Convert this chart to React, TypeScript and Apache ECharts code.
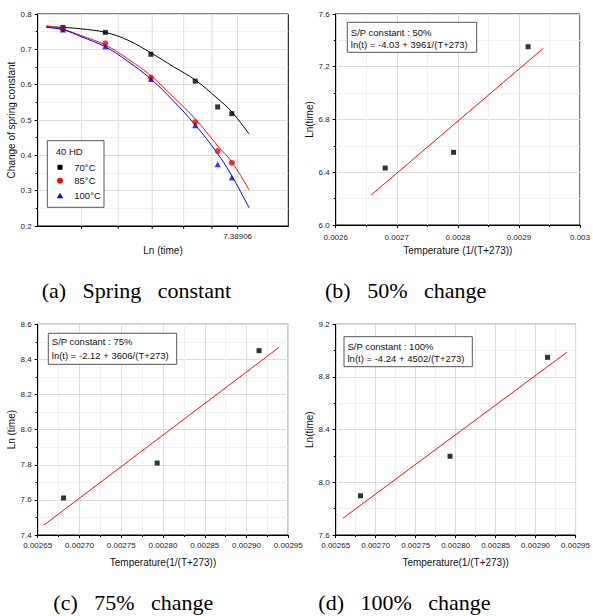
import React, { useEffect, useRef } from "react";
import * as echarts from "echarts";

// ---------- Data ----------
// (a) Spring constant vs Ln(time)
const A_LN_TIME = [-0.72, -0.06, 0.65, 1.34, 1.69, 1.91];
const A_70 = [0.762, 0.748, 0.686, 0.61, 0.537, 0.518];
const A_85 = [0.757, 0.717, 0.62, 0.494, 0.412, 0.379];
const A_100 = [0.756, 0.709, 0.616, 0.485, 0.375, 0.337];
const A_FIT_X = [-0.98, -0.71, -0.44, -0.06, 0.29, 0.65, 1.0, 1.34, 1.68, 1.91, 2.18];
const A_FIT_70 = [0.764, 0.762, 0.758, 0.748, 0.726, 0.69, 0.651, 0.613, 0.562, 0.523, 0.46];
const A_FIT_85 = [0.767, 0.756, 0.739, 0.712, 0.673, 0.625, 0.565, 0.503, 0.429, 0.381, 0.302];
const A_FIT_100 = [0.762, 0.755, 0.736, 0.707, 0.666, 0.616, 0.554, 0.486, 0.407, 0.342, 0.251];
const A_TICKS_LN = [-0.43, 0.14, 0.67, 1.16, 1.6, 2.0];
const A_TICK_LABELS = ["", "", "", "", "", "7.38906"];
const A_LEGEND = ["70°C", "85°C", "100°C"];

// inverse temperatures 1/(T+273) for 100, 85, 70 °C
const INV_T = [0.002681, 0.002793, 0.002915];

// (b) 50% change
const B_LN = [6.432, 6.551, 7.352];
const B_FIT_X = [0.002658, 0.00294];
const B_FIT_Y = [6.227, 7.34];
// (c) 75% change
const C_LN = [7.611, 7.81, 8.45];
const C_FIT_X = [0.0026575, 0.002939];
const C_FIT_Y = [7.457, 8.469];
// (d) 100% change
const D_LN = [7.898, 8.198, 8.949];
const D_FIT_X = [0.002659, 0.002939];
const D_FIT_Y = [7.727, 8.987];

const BOX_B = ["S/P constant : 50%", "ln(t) = -4.03 + 3961/(T+273)"];
const BOX_C = ["S/P constant : 75%", "ln(t) = -2.12 + 3606/(T+273)"];
const BOX_D = ["S/P constant : 100%", "ln(t) = -4.24 + 4502/(T+273)"];
const CAPTIONS = ["(a)   Spring   constant", "(b)   50%   change", "(c)   75%   change", "(d)   100%   change"];

const FONT = '"Liberation Sans", Arial, sans-serif';
const SERIF = '"Liberation Serif", "Times New Roman", serif';
const RED = "#f01010";

const zip = (xs: number[], ys: number[]) => xs.map((x, i) => [x, ys[i]]);

function yAxis(gridIndex: number, min: number, max: number, interval: number, name: string, gap: number, fmt?: (v: number) => string) {
  return {
    type: "value",
    gridIndex,
    min,
    max,
    interval,
    name,
    nameLocation: "middle",
    nameGap: gap,
    nameTextStyle: { fontSize: 10, color: "#111", fontFamily: FONT },
    axisLine: { show: true, onZero: false, lineStyle: { color: "#000", width: 1 } },
    axisTick: { show: true, inside: false, length: 3, lineStyle: { color: "#000" } },
    minorTick: { show: true, splitNumber: 2, length: 2, lineStyle: { color: "#000" } },
    splitLine: { show: true, lineStyle: { color: "#dcdcdc", width: 1 } },
    minorSplitLine: { show: true, lineStyle: { color: "#f0f0f0", width: 1 } },
    axisLabel: { fontSize: 8, color: "#222", fontFamily: FONT, margin: 6, formatter: fmt },
  };
}

function xAxis(gridIndex: number, min: number, max: number, interval: number, name: string, gap: number, margin: number, fmt?: (v: number) => string) {
  return {
    type: "value",
    gridIndex,
    min,
    max,
    interval,
    name,
    nameLocation: "middle",
    nameGap: gap,
    nameTextStyle: { fontSize: 10, color: "#111", fontFamily: FONT },
    axisLine: { show: true, onZero: false, lineStyle: { color: "#000", width: 1 } },
    axisTick: { show: true, inside: false, length: 3, lineStyle: { color: "#000" } },
    minorTick: { show: true, splitNumber: 2, length: 2, lineStyle: { color: "#000" } },
    splitLine: { show: true, lineStyle: { color: "#dcdcdc", width: 1 } },
    minorSplitLine: { show: true, lineStyle: { color: "#f0f0f0", width: 1 } },
    axisLabel: { fontSize: 8, color: "#222", fontFamily: FONT, margin, formatter: fmt, showMaxLabel: true, showMinLabel: true },
  };
}

function annotation(x: number, y: number, w: number, h: number, lines: string[], ly: number[]) {
  return {
    type: "group",
    z: 100,
    children: [
      { type: "rect", z: 100, shape: { x, y, width: w, height: h }, style: { fill: "#fff", stroke: "#555", lineWidth: 1 } },
      ...lines.map((t, i) => ({
        type: "text",
        z: 101,
        x: x + 3.5,
        y: ly[i],
        style: { text: t, fontSize: 9.5, fontFamily: FONT, fill: "#111", verticalAlign: "middle", align: "left" },
      })),
    ],
  };
}

export default function App() {
  const ref = useRef<HTMLDivElement>(null);
  useEffect(() => {
    if (!ref.current) return;
    const chart = echarts.init(ref.current, undefined, { renderer: "svg" });
    const gridBase = { show: true, borderColor: "#000", borderWidth: 1, containLabel: false };
    const f1 = (v: number) => v.toFixed(1);
    const f4 = (v: number) => (Math.abs(v - 0.003) < 1e-9 ? "0.003" : v.toFixed(4));
    const f5 = (v: number) => v.toFixed(5);
    const legendText = (t: string, y: number) => ({
      type: "text",
      z: 101,
      x: 74.3,
      y,
      style: { text: t, fontSize: 9.5, fontFamily: FONT, fill: "#111", verticalAlign: "middle" },
    });

    const option: any = {
      animation: false,
      backgroundColor: "#fff",
      grid: [
        { ...gridBase, left: 37.7, top: 14, width: 250.6, height: 212 },
        { ...gridBase, left: 335.7, top: 14, width: 251, height: 211 },
        { ...gridBase, left: 37.7, top: 324.3, width: 250.6, height: 210.7 },
        { ...gridBase, left: 335.7, top: 324.3, width: 251, height: 210.7 },
      ],
      xAxis: [
        {
          type: "value",
          gridIndex: 0,
          min: -1.114,
          max: 2.79,
          name: "Ln (time)",
          nameLocation: "middle",
          nameGap: 19,
          nameTextStyle: { fontSize: 10, color: "#111", fontFamily: FONT },
          axisLine: { show: true, onZero: false, lineStyle: { color: "#000", width: 1 } },
          axisTick: { show: false },
          axisLabel: { show: false },
          splitLine: { show: false },
        },
        xAxis(1, 0.0026, 0.003, 0.0001, "Temperature (1/(T+273))", 20, 8, f4),
        xAxis(2, 0.00265, 0.00295, 0.00005, "Temperature(1/(T+273))", 22, 6, f5),
        xAxis(3, 0.00265, 0.00295, 0.00005, "Temperature(1/(T+273))", 22, 6, f5),
      ],
      yAxis: [
        yAxis(0, 0.2, 0.8, 0.1, "Change of spring constant", 21, f1),
        yAxis(1, 6.0, 7.6, 0.4, "Ln(time)", 21, f1),
        yAxis(2, 7.4, 8.6, 0.2, "Ln (time)", 21, f1),
        yAxis(3, 7.6, 9.2, 0.4, "Ln(time)", 21, f1),
      ],
      series: [
        {
          type: "custom",
          xAxisIndex: 0,
          yAxisIndex: 0,
          z: 1,
          clip: false,
          silent: true,
          data: A_TICKS_LN.map((v) => [v]),
          renderItem: (params: any, api: any) => {
            const v = api.value(0);
            const top = api.coord([v, 0.8]);
            const bot = api.coord([v, 0.2]);
            const label = A_TICK_LABELS[params.dataIndex];
            const children: any[] = [
              { type: "line", shape: { x1: top[0], y1: top[1], x2: bot[0], y2: bot[1] }, style: { stroke: "#dcdcdc", lineWidth: 1 } },
              { type: "line", shape: { x1: bot[0], y1: bot[1], x2: bot[0], y2: bot[1] + 3 }, style: { stroke: "#000", lineWidth: 1 } },
            ];
            if (label) {
              children.push({
                type: "text",
                x: bot[0],
                y: bot[1] + 6,
                style: { text: label, fontSize: 8, fontFamily: FONT, fill: "#222", align: "center", verticalAlign: "top" },
              });
            }
            return { type: "group", children };
          },
        },
        { type: "line", xAxisIndex: 0, yAxisIndex: 0, data: zip(A_FIT_X, A_FIT_70), smooth: 0.4, showSymbol: false, lineStyle: { color: "#000", width: 1 }, z: 3 },
        { type: "line", xAxisIndex: 0, yAxisIndex: 0, data: zip(A_FIT_X, A_FIT_85), smooth: 0.4, showSymbol: false, lineStyle: { color: RED, width: 1 }, z: 3 },
        { type: "line", xAxisIndex: 0, yAxisIndex: 0, data: zip(A_FIT_X, A_FIT_100), smooth: 0.4, showSymbol: false, lineStyle: { color: "#0000ff", width: 1 }, z: 3 },
        { name: A_LEGEND[0], type: "scatter", xAxisIndex: 0, yAxisIndex: 0, data: zip(A_LN_TIME, A_70), symbol: "rect", symbolSize: 5, itemStyle: { color: "#000" }, z: 4 },
        { name: A_LEGEND[1], type: "scatter", xAxisIndex: 0, yAxisIndex: 0, data: zip(A_LN_TIME, A_85), symbol: "circle", symbolSize: 6, itemStyle: { color: "#ff0000" }, z: 4 },
        { name: A_LEGEND[2], type: "scatter", xAxisIndex: 0, yAxisIndex: 0, data: zip(A_LN_TIME, A_100), symbol: "triangle", symbolSize: 6, itemStyle: { color: "#0000ff" }, z: 4 },

        { type: "line", xAxisIndex: 1, yAxisIndex: 1, data: zip(B_FIT_X, B_FIT_Y), showSymbol: false, lineStyle: { color: RED, width: 1 }, z: 3 },
        { type: "scatter", xAxisIndex: 1, yAxisIndex: 1, data: zip(INV_T, B_LN), symbol: "rect", symbolSize: 5, itemStyle: { color: "#000" }, z: 4 },
        { type: "line", xAxisIndex: 2, yAxisIndex: 2, data: zip(C_FIT_X, C_FIT_Y), showSymbol: false, lineStyle: { color: RED, width: 1 }, z: 3 },
        { type: "scatter", xAxisIndex: 2, yAxisIndex: 2, data: zip(INV_T, C_LN), symbol: "rect", symbolSize: 5, itemStyle: { color: "#000" }, z: 4 },
        { type: "line", xAxisIndex: 3, yAxisIndex: 3, data: zip(D_FIT_X, D_FIT_Y), showSymbol: false, lineStyle: { color: RED, width: 1 }, z: 3 },
        { type: "scatter", xAxisIndex: 3, yAxisIndex: 3, data: zip(INV_T, D_LN), symbol: "rect", symbolSize: 5, itemStyle: { color: "#000" }, z: 4 },
      ],
      graphic: [
        // legend of (a)
        {
          type: "group",
          z: 100,
          children: [
            { type: "rect", z: 100, shape: { x: 47.3, y: 140.7, width: 56.7, height: 66.6 }, style: { fill: "#fff", stroke: "#555", lineWidth: 1 } },
            { type: "text", z: 101, x: 55.7, y: 151.7, style: { text: "40 HD", fontSize: 9.5, fontFamily: FONT, fill: "#111", verticalAlign: "middle" } },
            { type: "rect", z: 101, shape: { x: 57.5, y: 164.8, width: 5, height: 5 }, style: { fill: "#000" } },
            { type: "circle", z: 101, shape: { cx: 60, cy: 180.7, r: 3 }, style: { fill: "#ff0000" } },
            { type: "polygon", z: 101, shape: { points: [[60, 192.7], [63.2, 198.3], [56.8, 198.3]] }, style: { fill: "#0000ff" } },
            legendText(A_LEGEND[0], 167.3),
            legendText(A_LEGEND[1], 180.9),
            legendText(A_LEGEND[2], 195.7),
          ],
        },
        annotation(347.3, 22.3, 129.4, 30, BOX_B, [32.3, 44.3]),
        annotation(48.3, 333.3, 128.4, 31, BOX_C, [341, 355.3]),
        annotation(344, 336.7, 128.3, 30, BOX_D, [346.3, 358.3]),
        { type: "text", x: 41.7, y: 290, style: { text: CAPTIONS[0], fontSize: 22, fontFamily: SERIF, fill: "#000", verticalAlign: "middle" } },
        { type: "text", x: 325, y: 290, style: { text: CAPTIONS[1], fontSize: 22, fontFamily: SERIF, fill: "#000", verticalAlign: "middle" } },
        { type: "text", x: 53.3, y: 602, style: { text: CAPTIONS[2], fontSize: 22, fontFamily: SERIF, fill: "#000", verticalAlign: "middle" } },
        { type: "text", x: 318.3, y: 602, style: { text: CAPTIONS[3], fontSize: 22, fontFamily: SERIF, fill: "#000", verticalAlign: "middle" } },
      ],
    };
    chart.setOption(option);
    return () => chart.dispose();
  }, []);
  return <div ref={ref} style={{ position: "absolute", left: 0, top: 0, width: 593, height: 616 }} />;
}
